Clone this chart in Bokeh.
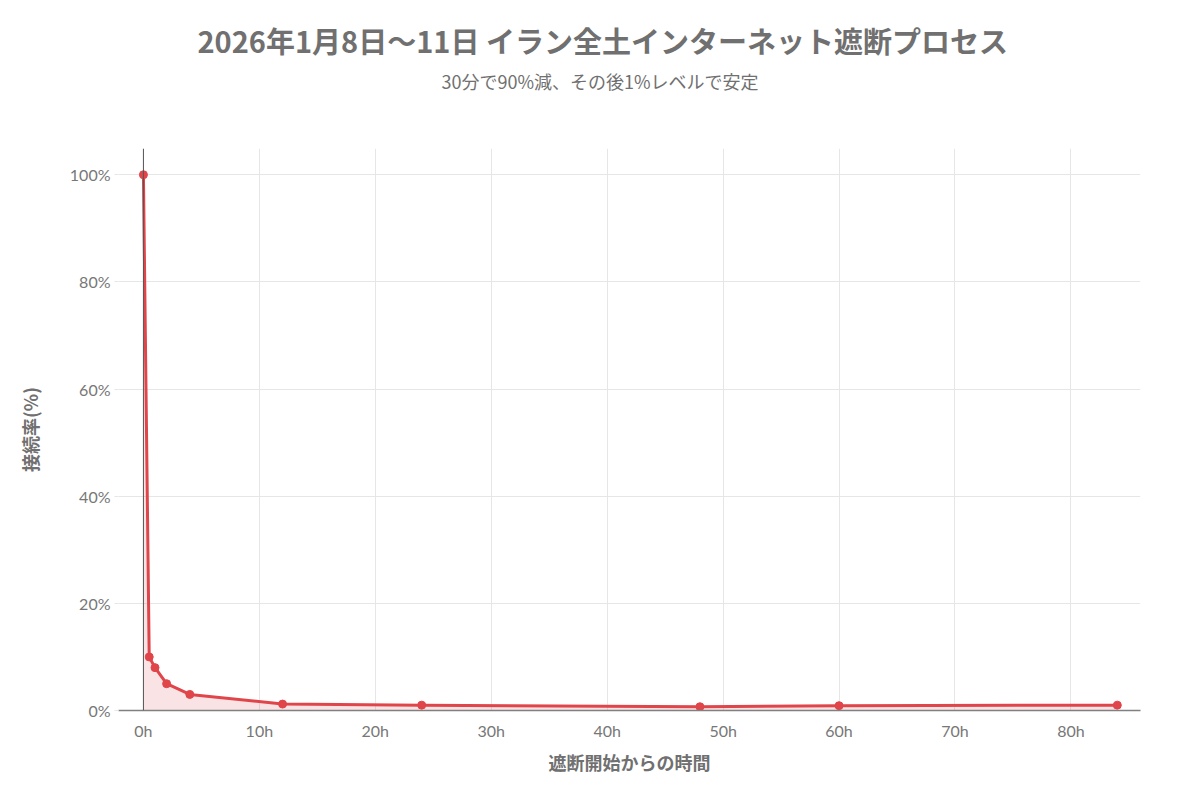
from bokeh.plotting import figure
from bokeh.models import ColumnDataSource, Span, FixedTicker, CustomJSTickFormatter, Range1d, Title
from bokeh.embed import file_html
from bokeh.resources import INLINE

hours = [0, 0.5, 1, 2, 4, 12, 24, 48, 60, 84]
rate = [100, 10, 8, 5, 3, 1.2, 1.0, 0.7, 0.9, 1.0]
x_ticks = [0, 10, 20, 30, 40, 50, 60, 70, 80]
y_ticks = [0, 20, 40, 60, 80, 100]

title_text = "2026年1月8日〜11日 イラン全土インターネット遮断プロセス"
subtitle_text = "30分で90%減、その後1%レベルで安定"
x_label = "遮断開始からの時間"
y_label = "接続率(%)"

RED = "#e0454a"
GRAY = "#707070"
JP = "Noto Sans CJK JP"

W, H = 1184, 784
BL, BR, BT, BB = 118, 44, 148, 74

p = figure(width=W, height=H, output_backend="svg", toolbar_location=None,
           x_range=Range1d(-2.15, 86), y_range=Range1d(0, 104.9),
           min_border_left=BL, min_border_right=BR, min_border_top=BT, min_border_bottom=BB)
p.outline_line_color = None
p.background_fill_color = "white"

src = ColumnDataSource(dict(x=hours, y=rate, z=[0] * len(hours)))
p.varea(x="x", y1="z", y2="y", source=src, fill_color=RED, fill_alpha=0.15)
p.line(x="x", y="y", source=src, line_color=RED, line_width=3)
p.scatter(x="x", y="y", source=src, size=8, fill_color=RED, line_color=RED)

p.add_layout(Span(location=0, dimension="height", line_color="#555555", line_width=1))

p.xaxis.ticker = FixedTicker(ticks=x_ticks)
p.yaxis.ticker = FixedTicker(ticks=y_ticks)
p.xaxis.formatter = CustomJSTickFormatter(code="return tick + 'h';")
p.yaxis.formatter = CustomJSTickFormatter(code="return tick + '%';")

p.xgrid.grid_line_color = "#e6e6e6"
p.ygrid.grid_line_color = "#e6e6e6"

for ax in (p.xaxis, p.yaxis):
    ax.major_label_text_font = "Lato"
    ax.major_label_text_font_size = "16px"
    ax.major_label_text_color = "#777777"
    ax.minor_tick_line_color = None
    ax.axis_label_text_font = JP
    ax.axis_label_text_font_size = "18px"
    ax.axis_label_text_font_style = "bold"
    ax.axis_label_text_color = GRAY

p.xaxis.axis_line_color = "#808080"
p.xaxis.axis_line_width = 1.5
p.xaxis.major_tick_line_color = None
p.xaxis.major_label_standoff = 4
p.xaxis.axis_label = x_label
p.xaxis.axis_label_standoff = 6

p.yaxis.axis_line_color = None
p.yaxis.major_tick_line_color = "#e6e6e6"
p.yaxis.major_tick_out = 4
p.yaxis.major_tick_in = 0
p.yaxis.major_label_standoff = 4
p.yaxis.axis_label = y_label
p.yaxis.axis_label_standoff = 24

# spacer between frame and subtitle
p.add_layout(Title(text=" ", text_font_size="1px", standoff=47), "above")
p.add_layout(Title(text=subtitle_text, align="left", offset=323, text_font=JP,
                   text_font_size="18px", text_font_style="normal", text_color=GRAY,
                   standoff=10), "above")
p.add_layout(Title(text=title_text, align="left", offset=79, text_font=JP,
                   text_font_size="29px", text_font_style="bold", text_color=GRAY,
                   standoff=0), "above")

open("out.html", "w").write(file_html(p, INLINE))
